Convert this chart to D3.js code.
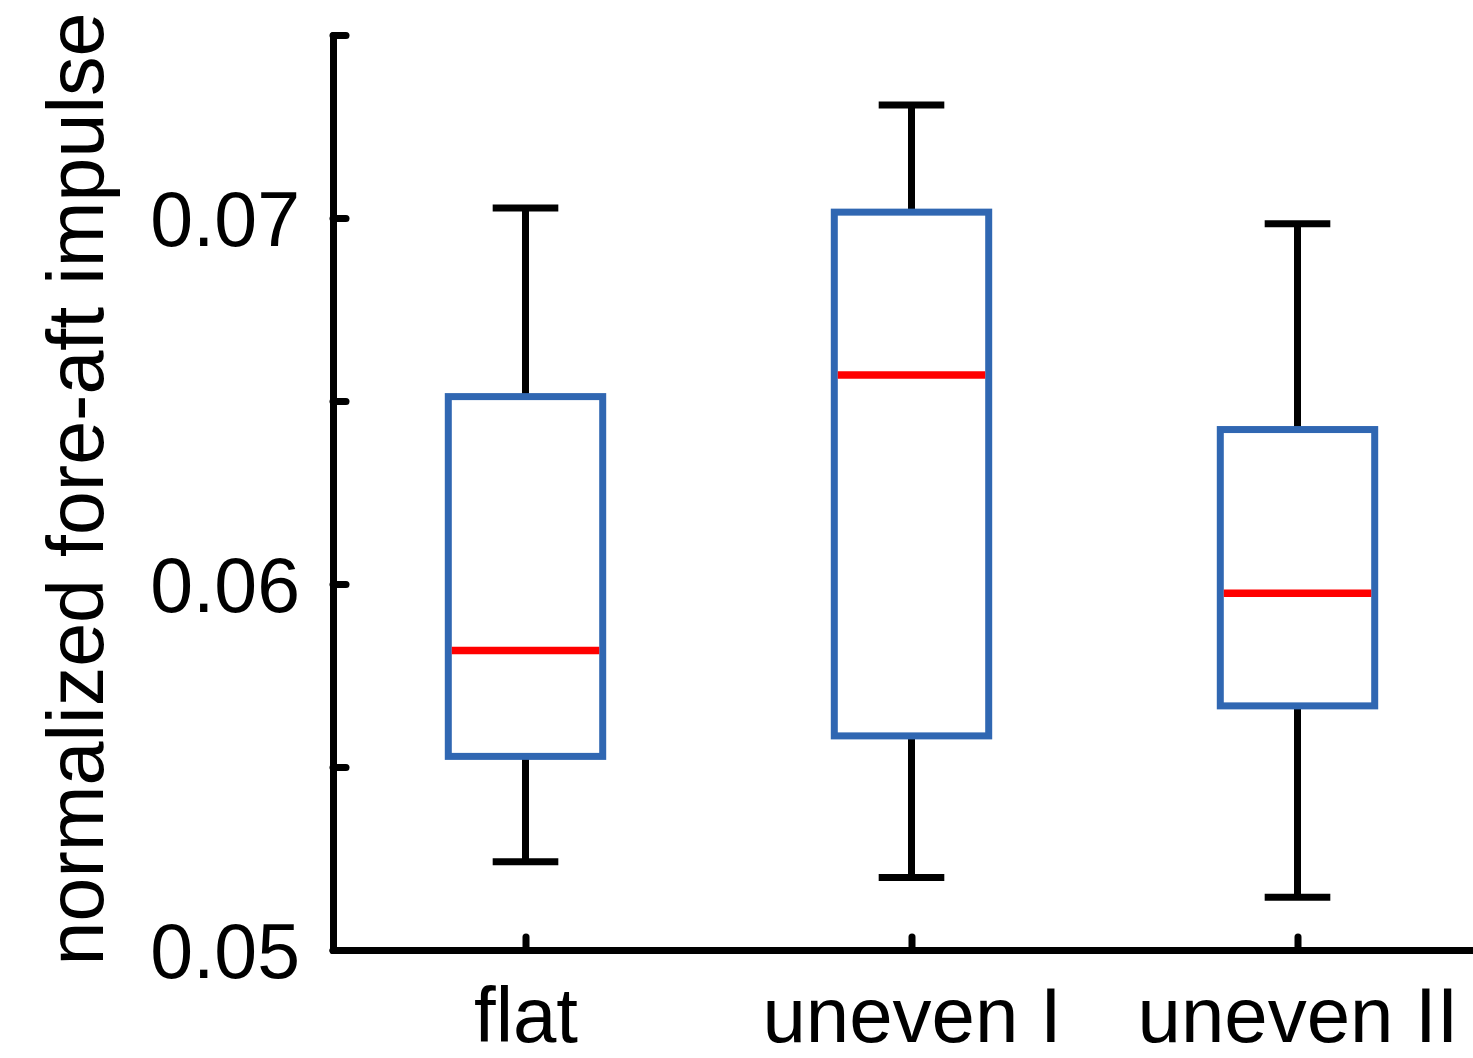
<!DOCTYPE html>
<html>
<head>
<meta charset="utf-8">
<script src="https://cdn.jsdelivr.net/npm/d3@7"></script>
<style>
  body { margin: 0; background: #fff; }
  svg { display: block; font-family: 'Liberation Sans', Arial, sans-serif; }
</style>
</head>
<body>
<div id="chart"></div>
<script>
// box plot data
const categories = ['flat', 'uneven I', 'uneven II']
const whiskerLow = [0.05241, 0.05198, 0.05144]
const q1 = [0.05529, 0.05585, 0.05667]
const medians = [0.05818, 0.06571, 0.05975]
const q3 = [0.06512, 0.07016, 0.06422]
const whiskerHigh = [0.07027, 0.07309, 0.06984]
const yTicks = [0.05, 0.055, 0.06, 0.065, 0.07, 0.075]
const yTickLabels = { 0.05: '0.05', 0.06: '0.06', 0.07: '0.07' }

const width = 1473
const height = 1058
const margin = { top: 35, left: 333, bottom: 108 }

const svg = d3.select('#chart').append('svg')
  .attr('width', width)
  .attr('height', height)

const y = d3.scaleLinear()
  .domain([0.05, 0.075])
  .range([height - margin.bottom, margin.top])

const x = d3.scaleLinear()
  .domain([0.5, 3.5])
  .range([margin.left - 0.5, margin.left - 0.5 + 3 * 386])

const boxW = 0.4
const capW = 0.17

const data = categories.map((c, i) => ({
  name: c, pos: i + 1,
  lo: whiskerLow[i], q1: q1[i], med: medians[i], q3: q3[i], hi: whiskerHigh[i],
}))

const g = svg.append('g')

const box = g.selectAll('g.box')
  .data(data)
  .enter()
  .append('g')
  .attr('class', 'box')

// whiskers
box.append('line')
  .attr('x1', (d) => x(d.pos)).attr('x2', (d) => x(d.pos))
  .attr('y1', (d) => y(d.q3)).attr('y2', (d) => y(d.hi))
  .attr('stroke', '#000').attr('stroke-width', 7)
box.append('line')
  .attr('x1', (d) => x(d.pos)).attr('x2', (d) => x(d.pos))
  .attr('y1', (d) => y(d.q1)).attr('y2', (d) => y(d.lo))
  .attr('stroke', '#000').attr('stroke-width', 7)

// caps
;['hi', 'lo'].forEach((k) => {
  box.append('line')
    .attr('x1', (d) => x(d.pos - capW / 2)).attr('x2', (d) => x(d.pos + capW / 2))
    .attr('y1', (d) => y(d[k])).attr('y2', (d) => y(d[k]))
    .attr('stroke', '#000').attr('stroke-width', 7)
})

// boxes
box.append('rect')
  .attr('x', (d) => x(d.pos - boxW / 2))
  .attr('width', x(1 + boxW) - x(1))
  .attr('y', (d) => y(d.q3))
  .attr('height', (d) => y(d.q1) - y(d.q3))
  .attr('fill', 'none')
  .attr('stroke', '#3067b2')
  .attr('stroke-width', 7)

// medians
box.append('line')
  .attr('x1', (d) => x(d.pos - boxW / 2) + 3.5).attr('x2', (d) => x(d.pos + boxW / 2) - 3.5)
  .attr('y1', (d) => y(d.med)).attr('y2', (d) => y(d.med))
  .attr('stroke', '#ff0000').attr('stroke-width', 7.5)

// axes
const yAxis = d3.axisLeft(y)
  .tickValues(yTicks)
  .tickSize(-13)
  .tickSizeOuter(0)
  .tickPadding(33)
  .tickFormat((d) => yTickLabels[d] || '')

const yG = svg.append('g')
  .attr('transform', `translate(${margin.left},0)`)
  .call(yAxis)

const xAxis = d3.axisBottom(x)
  .tickValues([1, 2, 3])
  .tickSize(-13)
  .tickSizeOuter(0)
  .tickFormat((d) => categories[d - 1])

const xG = svg.append('g')
  .attr('transform', `translate(0,${y(0.05)})`)
  .call(xAxis)

;[yG, xG].forEach((a) => {
  a.select('.domain').attr('stroke', '#000').attr('stroke-width', 7).attr('stroke-linecap', 'round')
  a.selectAll('.tick line').attr('stroke', '#000').attr('stroke-width', 7).attr('stroke-linecap', 'round')
  a.selectAll('.tick text').attr('fill', '#000').style('font-size', '77px')
})

yG.selectAll('.tick text').attr('dy', '0.355em')
xG.selectAll('.tick text').attr('y', 92).attr('dy', 0).style('font-size', '78px')

// y label
svg.append('text')
  .attr('transform', `translate(103,${489}) rotate(-90)`)
  .attr('text-anchor', 'middle')
  .style('font-size', '79px')
  .attr('fill', '#000')
  .text('normalized fore-aft impulse')
</script>
</body>
</html>
